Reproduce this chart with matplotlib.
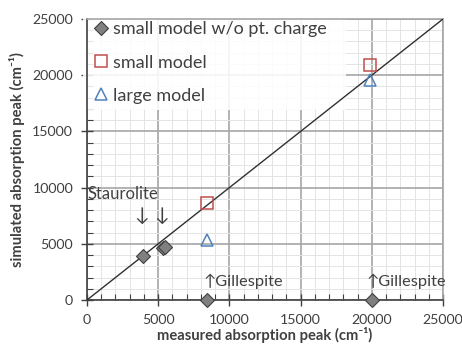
import matplotlib
matplotlib.use("Agg")
import matplotlib.pyplot as plt
from matplotlib.patches import Rectangle
from matplotlib.lines import Line2D
import numpy as np

plt.rcParams['font.family'] = ['Lato', 'DejaVu Sans']

# data
nopc_x = [3950, 5350, 5500, 8400, 20000]
nopc_y = [3950, 4600, 4750, 0, 0]
small_x = [8400, 19900]
small_y = [8600, 20950]
large_x = [8400, 19900]
large_y = [5350, 19600]
diag = [0, 25000]
xticks = [0, 5000, 10000, 15000, 20000, 25000]
yticks = [0, 5000, 10000, 15000, 20000, 25000]
legend_labels = ["small model w/o pt. charge", "small model", "large model"]

txt = '#404040'
fig = plt.figure(figsize=(4.62, 3.47), dpi=100)
ax = fig.add_axes([87/462, 1-300/347, (443-87)/462, (300-19)/347])
ax.set_xlim(0, 25000)
ax.set_ylim(0, 25000)
ax.set_xticks(xticks)
ax.set_yticks(yticks)
ax.set_xticks(np.arange(0, 25001, 1000), minor=True)
ax.set_yticks(np.arange(0, 25001, 1000), minor=True)
ax.grid(which='major', color='#a6a6a6', lw=1.2, zorder=0)
ax.grid(which='minor', color='#e4e4e4', lw=0.7, zorder=0)
ax.set_axisbelow(True)
for s in ['top', 'right']:
    ax.spines[s].set_color('#a6a6a6')
    ax.spines[s].set_linewidth(1.2)
for s in ['left', 'bottom']:
    ax.spines[s].set_color('#404040')
    ax.spines[s].set_linewidth(1.2)
ax.tick_params(which='major', direction='inout', length=8, width=1.0, color='#404040',
               labelsize=10.2, labelcolor=txt, pad=6)
ax.tick_params(which='minor', direction='in', length=4, width=0.8, color='#404040')

# legend backdrop
ax.add_patch(Rectangle((-0.01, 0.676), 0.737, 0.33, transform=ax.transAxes,
                       facecolor='white', edgecolor='none', alpha=0.88, zorder=2.5, clip_on=False))

ax.plot(diag, diag, color='#303030', lw=1.0, zorder=3)
ax.plot(nopc_x, nopc_y, ls='none', marker='D', ms=7.5, mfc='#808080', mec='#404040', mew=0.8, zorder=4, clip_on=False)
ax.plot(small_x, small_y, ls='none', marker='s', ms=9, mfc='none', mec='#c0504d', mew=1.1, zorder=4)
ax.plot(large_x, large_y, ls='none', marker='^', ms=9, mfc='none', mec='#4f81bd', mew=1.1, zorder=4)

handles = [Line2D([], [], ls='none', marker='D', ms=7, mfc='#808080', mec='#404040', mew=0.8),
           Line2D([], [], ls='none', marker='s', ms=9, mfc='none', mec='#c0504d', mew=1.1),
           Line2D([], [], ls='none', marker='^', ms=9, mfc='none', mec='#4f81bd', mew=1.1)]
leg = ax.legend(handles, legend_labels, loc='upper left', bbox_to_anchor=(-0.01, 1.03),
                frameon=False, fontsize=13, labelspacing=0.95, handlelength=0.8,
                handletextpad=0.25, borderaxespad=0.2, labelcolor=txt)
leg.set_zorder(5)

ax.text(50, 9400, 'Staurolite', fontsize=12, color=txt, va='center', ha='left', zorder=5)
ax.text(3860, 7500, '↓', fontsize=14, color=txt, va='center', ha='center', zorder=5)
ax.text(5270, 7500, '↓', fontsize=14, color=txt, va='center', ha='center', zorder=5)
ax.text(8150, 1700, '↑Gillespite', fontsize=11.8, color=txt, va='center', ha='left', zorder=5)
ax.text(19650, 1700, '↑Gillespite', fontsize=11.8, color=txt, va='center', ha='left', zorder=5)

ax.set_xlabel('measured absorption peak (cm⁻¹)', fontsize=10.6, fontweight='bold', color=txt, labelpad=1)
ax.set_ylabel('simulated absorption peak (cm⁻¹)', fontsize=10.6, fontweight='bold', color=txt, labelpad=5)

fig.savefig('out.png', dpi=100)
